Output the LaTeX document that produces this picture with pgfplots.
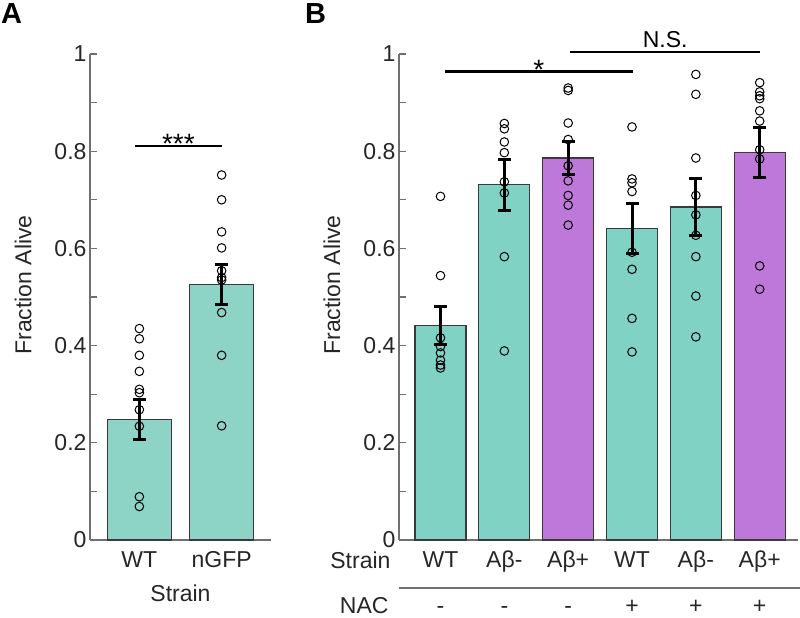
\documentclass[border=0pt]{standalone}
\usepackage{pgfplots}
\pgfplotsset{compat=1.18}
\usepackage{fontspec}
\setmainfont{Liberation Sans}
\definecolor{tealA}{HTML}{8ED4C6}
\definecolor{tealB}{HTML}{80D3C4}
\definecolor{purp}{HTML}{BE78DA}
\definecolor{axgray}{HTML}{707070}
\definecolor{txt}{HTML}{262626}
\definecolor{edge}{HTML}{3A3A3A}
\newcommand\ff{\fontsize{23}{27}\selectfont}
\tikzset{lab/.style={anchor=base, font=\ff, text=txt, yshift=-73pt}}
\pgfplotsset{
  base/.style={
    scale only axis, height=486pt, ymin=0, ymax=1,
    axis lines*=left, enlargelimits=false, clip=false,
    axis line style={draw=axgray, line width=1.3pt},
    ytick={0,0.2,0.4,0.6,0.8,1}, minor ytick={0.1,0.3,0.5,0.7,0.9},
    tick align=inside, major tick length=7pt, minor tick length=7pt,
    ytick style={draw=axgray, line width=1.1pt},
    minor tick style={draw=axgray, line width=1.1pt},
    xtick style={draw=none},
    tick label style={font=\ff, text=txt},
    /pgf/number format/assume math mode=true,
    xticklabel style={anchor=base, yshift=-27pt},
  },
  pts/.style={only marks, mark=o, mark size=4.3pt, mark options={line width=1pt, draw=black}},
  ebar/.style={draw=none, forget plot, error bars/.cd, y dir=both, y explicit,
    error bar style={draw=black, line width=3pt},
    error mark options={rotate=90, mark size=6.5pt, line width=3pt, draw=black}},
}
\begin{document}
\begin{tikzpicture}[x=1pt,y=1pt]
\useasboundingbox (0,0) rectangle (800,618);
\node[anchor=base west, inner sep=0pt, font=\bfseries\fontsize{29}{30}\selectfont] at (1,594) {A};
\node[anchor=base west, inner sep=0pt, font=\bfseries\fontsize{29}{30}\selectfont] at (305,594) {B};

\begin{axis}[base, at={(90pt,78pt)}, anchor=south west, width=181pt,
  xmin=0.4, xmax=2.6, xtick={1,2}, xticklabels={WT,nGFP},
  xlabel={Strain}, ylabel={Fraction Alive},
  every axis x label/.style={at={(axis description cs:0.5,0)}, anchor=base, yshift=-61pt, font=\ff, text=txt},
  every axis y label/.style={at={(axis description cs:-0.37,0.525)}, rotate=90, anchor=center, font=\ff, text=txt},
  ]
\addplot[ybar, bar width=0.78, fill=tealA, draw=edge, line width=1.2pt] coordinates {(1,0.248) (2,0.526)};
\addplot[pts] coordinates {
 (1,0.435) (1,0.414) (1,0.380) (1,0.347) (1,0.310) (1,0.303) (1,0.268) (1,0.234) (1,0.089) (1,0.069)
 (2,0.751) (2,0.700) (2,0.634) (2,0.601) (2,0.554) (2,0.540) (2,0.535) (2,0.468) (2,0.380) (2,0.235)};
\addplot[ebar] coordinates {(1,0.248) +- (0,0.041) (2,0.526) +- (0,0.041)};
\draw[line width=2.5pt] (axis cs:0.95,0.811) -- (axis cs:2.0,0.811);
\node[anchor=base, font=\fontsize{28}{30}\selectfont] at (axis cs:1.475,0.811) [yshift=-8pt] {***};
\end{axis}

\begin{axis}[base, at={(399pt,78pt)}, anchor=south west, width=399pt,
  xmin=0.35, xmax=6.6, xtick={1,2,3,4,5,6}, xticklabels={WT,Aβ-,Aβ+,WT,Aβ-,Aβ+},
  ylabel={Fraction Alive},
  every axis y label/.style={at={(axis description cs:-0.168,0.525)}, rotate=90, anchor=center, font=\ff, text=txt},
  ]
\addplot[ybar, bar width=0.8, fill=tealB, draw=edge, line width=1.2pt] coordinates {(1,0.441) (2,0.731) (4,0.641) (5,0.685)};
\addplot[ybar, bar width=0.8, fill=purp, draw=edge, line width=1.2pt] coordinates {(3,0.786) (6,0.797)};
\addplot[pts] coordinates {
 (1,0.707) (1,0.544) (1,0.416) (1,0.398) (1,0.385) (1,0.370) (1,0.360) (1,0.354)
 (2,0.857) (2,0.846) (2,0.819) (2,0.797) (2,0.737) (2,0.714) (2,0.583) (2,0.389)
 (3,0.930) (3,0.925) (3,0.858) (3,0.824) (3,0.770) (3,0.739) (3,0.709) (3,0.689) (3,0.648)
 (4,0.850) (4,0.743) (4,0.735) (4,0.717) (4,0.592) (4,0.557) (4,0.456) (4,0.387)
 (5,0.958) (5,0.917) (5,0.786) (5,0.709) (5,0.669) (5,0.627) (5,0.583) (5,0.502) (5,0.418)
 (6,0.941) (6,0.922) (6,0.914) (6,0.908) (6,0.883) (6,0.862) (6,0.803) (6,0.784) (6,0.564) (6,0.516)};
\addplot[ebar] coordinates {(1,0.441) +- (0,0.039) (2,0.731) +- (0,0.052) (3,0.786) +- (0,0.034)
 (4,0.641) +- (0,0.051) (5,0.685) +- (0,0.059) (6,0.797) +- (0,0.051)};
\draw[line width=2.5pt] (axis cs:1.07,0.9636) -- (axis cs:4.01,0.9636);
\node[anchor=base, font=\fontsize{28}{30}\selectfont] at (axis cs:2.54,0.9636) [yshift=-8pt] {*};
\draw[line width=2.5pt] (axis cs:3.03,1.004) -- (axis cs:6.01,1.004);
\node[anchor=base, font=\ff] at (axis cs:4.52,1.004) [yshift=5pt] {N.S.};
\node[anchor=base east, font=\ff, text=txt] at (rel axis cs:0,0) [xshift=-5pt, yshift=-28pt] {Strain};
\draw[axgray, line width=1.3pt] (rel axis cs:0,0) ++(0pt,-48pt) -- ++(401pt,0pt);
\node[anchor=base east, font=\ff, text=txt] at (rel axis cs:0,0) [xshift=-7pt, yshift=-73pt] {NAC};
\node[lab] at (axis cs:1,0) {-};
\node[lab] at (axis cs:2,0) {-};
\node[lab] at (axis cs:3,0) {-};
\node[lab] at (axis cs:4,0) {+};
\node[lab] at (axis cs:5,0) {+};
\node[lab] at (axis cs:6,0) {+};
\end{axis}
\end{tikzpicture}
\end{document}
